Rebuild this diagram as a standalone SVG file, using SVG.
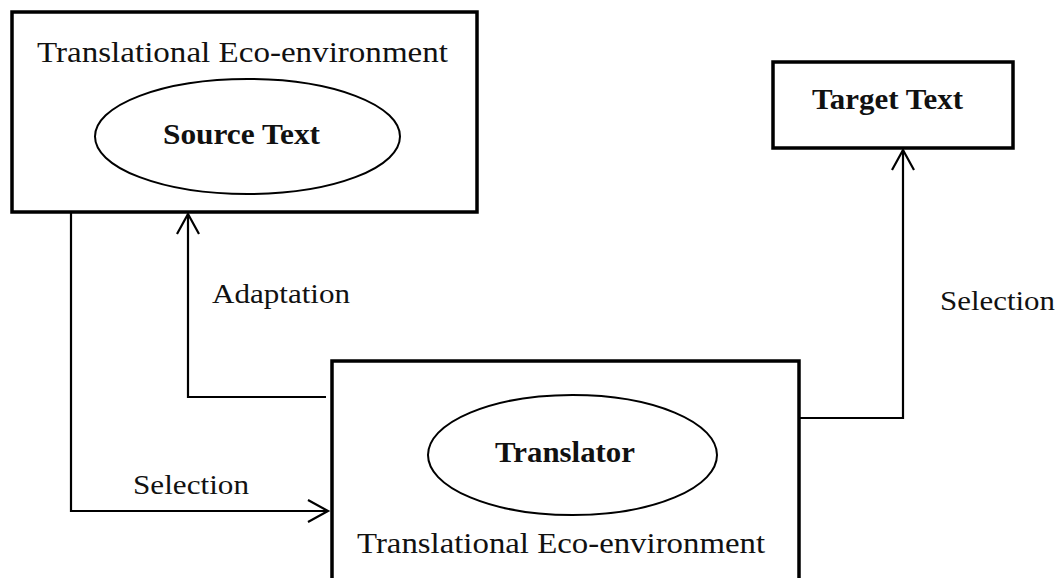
<svg xmlns="http://www.w3.org/2000/svg" width="1059" height="578" viewBox="0 0 1059 578">
  <style>
    .box { fill: #fff; stroke: #000; stroke-width: 3.5; }
    .ell { fill: none; stroke: #000; stroke-width: 2; }
    .conn { fill: none; stroke: #000; stroke-width: 2.2; }
    .t { font-family: "Liberation Serif", serif; font-size: 30px; fill: #111; }
    .b { font-weight: bold; }
    .lbl { font-family: "Liberation Serif", serif; font-size: 28px; fill: #111; }
  </style>
  <defs>
    <marker id="arr" markerUnits="userSpaceOnUse" markerWidth="30" markerHeight="30" viewBox="-24 -15 30 30" refX="0" refY="0" orient="auto">
      <path d="M-20,-11 L0,0 L-20,11" fill="none" stroke="#000" stroke-width="2.2"/>
    </marker>
  </defs>
  <rect width="1059" height="578" fill="#fff"/>
  <g id="source">
    <rect class="box" x="12" y="12" width="465" height="200"/>
    <text class="t" x="37" y="62" textLength="411" lengthAdjust="spacingAndGlyphs">Translational Eco-environment</text>
    <ellipse class="ell" cx="247.5" cy="136.5" rx="152.5" ry="57.5"/>
    <text class="t b" x="163" y="144" textLength="157" lengthAdjust="spacingAndGlyphs">Source Text</text>
  </g>
  <g id="target">
    <rect class="box" x="773" y="62" width="240" height="86"/>
    <text class="t b" x="812" y="109" textLength="151" lengthAdjust="spacingAndGlyphs">Target Text</text>
  </g>
  <g id="translator">
    <rect class="box" x="332" y="361" width="467" height="230"/>
    <ellipse class="ell" cx="572.5" cy="455" rx="144.5" ry="60"/>
    <text class="t b" x="495" y="462" textLength="140" lengthAdjust="spacingAndGlyphs">Translator</text>
    <text class="t" x="357" y="553" textLength="408" lengthAdjust="spacingAndGlyphs">Translational Eco-environment</text>
  </g>
  <g id="connectors">
    <path class="conn" d="M71,213 V511 H328" marker-end="url(#arr)"/>
    <path class="conn" d="M326,397 H188 V214" marker-end="url(#arr)"/>
    <path class="conn" d="M800,418 H903 V150" marker-end="url(#arr)"/>
    <text class="lbl" x="212" y="303" textLength="138" lengthAdjust="spacingAndGlyphs">Adaptation</text>
    <text class="lbl" x="133" y="494" textLength="116" lengthAdjust="spacingAndGlyphs">Selection</text>
    <text class="lbl" x="940" y="310" textLength="115" lengthAdjust="spacingAndGlyphs">Selection</text>
  </g>
</svg>
